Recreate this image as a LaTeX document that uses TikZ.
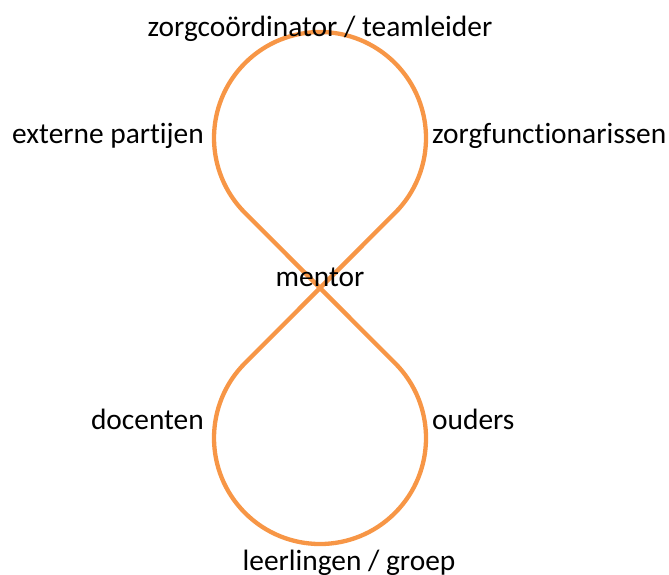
\documentclass[tikz,border=0pt]{standalone}
\usepackage{fontspec}
\setmainfont[Ligatures=NoCommon]{Carlito}
\definecolor{loop}{HTML}{F79646}
\begin{document}
\begin{tikzpicture}[x=1pt,y=-1pt,
  lbl/.style={inner sep=0pt,font=\fontsize{29.4}{35}\selectfont,text=black},
  loopline/.style={draw=loop,line width=4.3pt,line join=round}]
\useasboundingbox (0,0) rectangle (669,574);
\coordinate (X) at (320,288);
\coordinate (c1) at (320,138);
\coordinate (c2) at (320,438);
\draw[loopline] (X) -- (245.05,212.95)
  arc[start angle=135,end angle=405,radius=106]
  -- (X) -- (245.05,363.05)
  arc[start angle=225,end angle=-45,radius=106]
  -- cycle;
\node[lbl,anchor=base] (top) at (320,36) {zorgcoördinator / teamleider};
\node[lbl,anchor=base east] (ext) at (204,143) {externe partijen};
\node[lbl,anchor=base west] (zorg) at (432,143) {zorgfunctionarissen};
\node[lbl,anchor=base] (mentor) at (320,286) {mentor};
\node[lbl,anchor=base east] (doc) at (204,429) {docenten};
\node[lbl,anchor=base west] (oud) at (432,429) {ouders};
\node[lbl,anchor=base] (leer) at (349,570) {leerlingen / groep};
\end{tikzpicture}
\end{document}
